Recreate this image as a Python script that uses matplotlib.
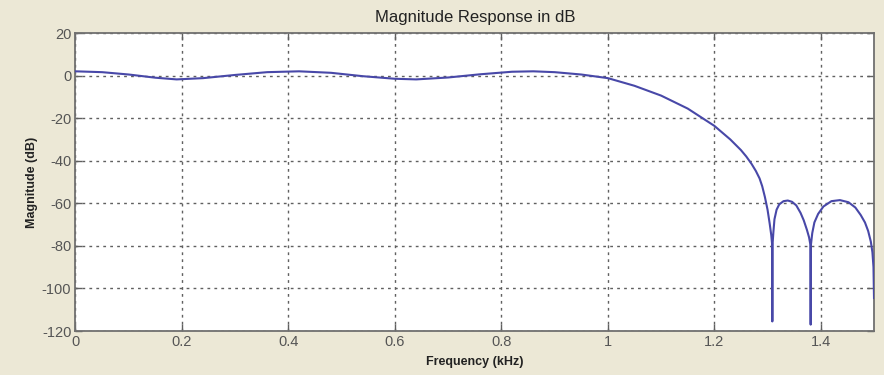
from matplotlib import pyplot as plt

plt.rcParams['font.family'] = ['Liberation Sans', 'DejaVu Sans']
plt.rcParams['axes.unicode_minus'] = False

# Frequency points (kHz) and magnitude (dB).
freqKHz = [
  0.00, 0.05, 0.10, 0.15, 0.19, 0.24, 0.30, 0.36, 0.42, 0.48,
  0.54, 0.60, 0.64, 0.70, 0.76, 0.82, 0.86, 0.90, 0.95, 1.00,
  1.05, 1.10, 1.15, 1.20, 1.23, 1.25, 1.26, 1.27, 1.278, 1.285,
  1.290, 1.295, 1.300, 1.304, 1.307, 1.3085, 1.309, 1.3095, 1.311, 1.313,
  1.317, 1.322, 1.330, 1.338, 1.346, 1.354, 1.362, 1.368, 1.374, 1.378,
  1.3805, 1.381, 1.3815, 1.384, 1.388, 1.395, 1.405, 1.420, 1.436, 1.452,
  1.465, 1.475, 1.483, 1.489, 1.494, 1.497, 1.499, 1.500,
]
magDb = [
  2.0, 1.6, 0.5, -1.0, -1.8, -1.2, 0.3, 1.6, 2.0, 1.3,
  -0.3, -1.5, -1.8, -0.9, 0.6, 1.8, 2.0, 1.6, 0.5, -1.2,
  -4.8, -9.4, -15.5, -23.6, -30.0, -35.0, -38.0, -41.5, -44.8, -48.3,
  -52.0, -57.0, -63.0, -69.5, -75.0, -79.0, -115.5, -79.0, -73.5, -67.5,
  -63.0, -60.5, -59.0, -58.7, -59.3, -61.0, -64.5, -68.0, -72.5, -76.0,
  -79.5, -117.0, -79.5, -74.0, -69.0, -65.0, -61.5, -59.0, -58.5, -59.5,
  -62.0, -65.5, -69.0, -73.0, -78.0, -83.0, -90.0, -104.5,
]

xTicks = [0, 0.2, 0.4, 0.6, 0.8, 1, 1.2, 1.4]
xTickLabels = ['0', '0.2', '0.4', '0.6', '0.8', '1', '1.2', '1.4']
yTicks = [20, 0, -20, -40, -60, -80, -100, -120]

bgColor = '#ECE8D6'

fig = plt.figure(figsize=(8.84, 3.75), dpi=100, facecolor=bgColor)
ax = fig.add_axes([0.0854, 0.1173, 0.9033, 0.7947])
ax.set_facecolor('white')

ax.plot(freqKHz, magDb, color='#4848A8', linewidth=1.5, zorder=3)

ax.set_xlim(0, 1.5)
ax.set_ylim(-120, 20)
ax.set_xticks(xTicks)
ax.set_xticklabels(xTickLabels)
ax.set_yticks(yTicks)

ax.grid(True, color='#606060', linestyle=(0, (2, 3)), linewidth=1.0)
ax.tick_params(direction='in', length=5, width=1.0, color='#606060',
               top=True, right=True, labelsize=10.5, labelcolor='#555555', pad=3)
for spine in ax.spines.values():
  spine.set_color('#707070')
  spine.set_linewidth(1.3)

ax.set_title('Magnitude Response in dB', fontsize=12, color='#222222', pad=8)
ax.set_xlabel('Frequency (kHz)', fontsize=9, fontweight='bold',
              color='#222222', labelpad=5)
ax.set_ylabel('Magnitude (dB)', fontsize=9, fontweight='bold',
              color='#222222', labelpad=3)

fig.savefig('out.png', dpi=100, facecolor=bgColor)
